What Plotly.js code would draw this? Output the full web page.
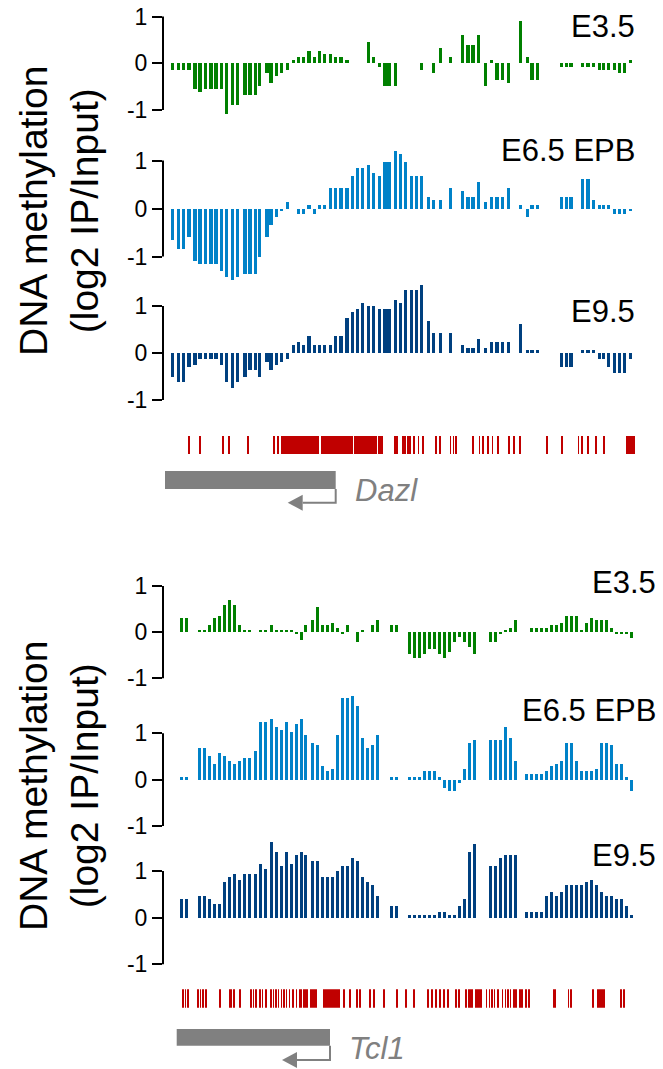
<!DOCTYPE html>
<html><head><meta charset="utf-8">
<script src="https://cdn.plot.ly/plotly-3.0.1.min.js"></script>
<style>html,body{margin:0;padding:0;background:#fff}</style>
</head><body><div id="chart" style="width:663px;height:1069px"></div>
<script>
// ---------- DATA ----------
// probe positions (relative genomic position units) for the Dazl locus
const dazlProbePos = [22.3,28.7,33.3,39.0,45.0,50.0,55.7,61.0,66.0,71.3,76.7,82.3,87.3,95.0,100.0,105.7,109.7,117.0,121.0,126.3,131.3,137.3,143.3,148.3,153.3,159.0,164.3,169.7,174.3,180.3,185.7,191.0,197.0,202.3,207.3,212.7,218.3,223.3,229.3,235.0,239.0,245.7,250.7,255.3,261.3,266.7,271.3,278.3,283.3,290.7,300.3,312.3,318.0,323.0,328.7,335.3,341.7,347.0,352.3,358.3,370.7,377.7,382.0,387.7,411.3,416.3,421.0,432.7,438.0,443.7,449.3,453.7,458.3,464.7,469.3,474.3,480.3];
const dazlE35 = [-0.14,-0.14,-0.14,-0.14,-0.55,-0.61,-0.55,-0.55,-0.55,-0.55,-1.08,-0.89,-0.89,-0.67,-0.67,-0.67,-0.48,-0.2,-0.42,-0.27,-0.2,-0.14,0.06,0.13,0.13,0.26,0.13,0.26,0.19,0.19,0.13,0.13,0.06,null,null,null,0.45,0.13,-0.07,-0.48,-0.48,-0.48,null,null,null,null,-0.14,null,-0.2,0.32,0.13,0.6,0.38,0.38,0.6,-0.48,0.06,-0.35,-0.35,-0.42,0.91,0.13,-0.35,-0.35,-0.07,-0.07,-0.07,-0.07,-0.07,-0.07,-0.14,-0.14,-0.14,-0.14,-0.2,-0.2,0.06];
const dazlE65 = [-0.66,-0.84,-0.84,-0.6,-1.09,-1.15,-1.15,-1.15,-1.15,-1.31,-1.43,-1.49,-1.43,-1.37,-1.37,-1.37,-1.0,-0.6,-0.35,-0.18,-0.06,0.14,null,-0.12,-0.12,0.07,-0.12,0.07,0.07,0.42,0.42,0.42,0.42,0.67,0.85,0.85,0.91,0.73,0.67,0.96,0.96,1.2,1.14,0.96,0.67,0.67,0.67,0.24,0.18,0.18,0.42,0.36,0.24,0.24,0.55,0.14,0.24,0.24,0.24,0.42,0.07,-0.18,0.07,0.07,0.24,0.24,0.24,0.61,0.61,0.18,0.07,0.07,0.07,-0.12,-0.12,-0.12,-0.06];
const dazlE95 = [-0.5,-0.62,-0.62,-0.3,-0.26,-0.13,-0.13,-0.13,-0.13,-0.26,-0.62,-0.75,-0.62,-0.5,-0.37,-0.37,-0.5,-0.2,-0.37,-0.26,-0.2,-0.13,0.18,0.24,0.18,0.37,0.18,0.18,0.18,0.18,0.37,0.37,0.75,0.88,0.94,1.07,1.0,1.0,0.94,0.94,0.94,1.13,1.07,1.33,1.33,1.33,1.45,0.69,0.43,0.43,0.43,0.18,0.11,0.11,0.3,0.11,0.24,0.24,0.24,0.24,0.62,0.06,0.06,0.06,-0.3,-0.3,-0.3,0.06,0.06,0.06,-0.13,-0.13,-0.3,-0.43,-0.43,-0.43,-0.13];
const dazlCpgStart = [37.7,48.7,72.0,77.7,96.7,123.3,126.7,130.7,170.7,204.0,228.3,244.3,252.0,257.3,263.0,267.7,272.3,285.0,289.3,300.0,302.7,305.3,322.0,328.7,332.0,336.7,341.7,346.7,358.0,363.3,369.3,395.7,410.7,427.7,431.0,437.3,444.7,452.7,476.0];
const dazlCpgEnd   = [39.7,50.7,74.0,79.7,98.7,124.7,128.7,168.7,202.7,227.0,233.3,247.7,256.0,261.3,265.0,269.3,274.0,287.3,291.0,301.3,304.3,307.3,324.0,330.0,334.0,339.3,343.3,348.7,360.0,365.3,371.3,397.7,412.7,429.3,432.7,439.3,446.7,454.7,484.7];

// probe positions for the Tcl1 locus
const tcl1ProbePos = [31.3,36.3,49.7,54.7,59.7,64.7,69.7,74.7,79.7,84.7,89.7,94.7,99.7,105.7,110.7,115.7,121.3,126.3,131.3,136.3,141.3,146.3,151.3,155.7,162.3,167.3,172.3,177.3,182.3,187.3,192.3,197.3,202.3,207.3,212.3,217.3,222.3,227.3,241.3,246.3,259.7,264.7,269.7,274.7,279.7,284.7,289.7,294.7,299.7,304.7,309.7,314.7,319.7,324.7,340.7,345.7,350.7,355.7,360.7,365.7,376.3,381.3,386.3,391.3,396.3,401.3,406.3,411.3,416.3,421.3,426.3,431.3,436.3,441.3,446.3,451.3,456.3,461.3,466.3,471.3,476.3,481.3];
const tcl1E35 = [0.31,0.31,0.05,0.05,0.15,0.31,0.36,0.58,0.69,0.58,0.15,0.05,0.05,null,0.05,0.05,0.15,0.05,0.05,0.05,0.05,-0.05,-0.16,0.15,0.26,0.55,0.15,0.15,0.2,0.1,-0.05,0.15,null,-0.22,0.05,null,0.15,0.26,0.15,0.15,-0.48,-0.55,-0.55,-0.48,-0.37,-0.37,-0.48,-0.55,-0.44,-0.22,-0.11,-0.22,-0.33,-0.48,-0.22,-0.22,-0.04,0.05,0.1,0.26,null,0.1,0.1,0.1,0.1,0.15,0.15,0.2,0.36,0.36,0.36,0.05,0.2,0.31,0.26,0.26,0.26,0.1,-0.04,-0.04,-0.04,-0.12];
const tcl1E65 = [0.06,0.06,0.68,0.68,0.51,0.34,0.58,0.51,0.4,0.34,0.4,0.47,0.47,0.62,1.24,1.24,1.3,1.14,1.07,1.24,1.03,1.2,1.3,0.96,0.79,0.75,0.29,0.19,0.23,0.96,1.76,1.76,1.81,1.59,0.9,0.68,0.75,0.96,0.06,0.06,0.06,0.06,0.06,0.19,0.19,0.19,0.06,-0.18,-0.24,-0.24,-0.07,0.23,0.79,0.86,0.86,0.86,0.86,1.14,0.9,0.4,0.12,0.12,0.12,0.12,0.19,0.29,0.34,0.4,0.79,0.79,0.4,0.19,0.19,0.19,0.23,0.79,0.79,0.75,0.34,0.34,0.06,-0.24];
const tcl1E95 = [0.41,0.41,0.47,0.47,0.41,0.3,0.3,0.77,0.87,0.94,0.81,0.94,0.94,0.94,1.16,1.05,1.62,1.41,1.11,1.41,1.16,1.34,1.41,1.34,1.21,1.21,0.87,0.87,0.87,0.99,1.11,1.11,1.28,1.21,0.87,0.77,0.71,0.47,0.24,0.24,0.06,0.06,0.06,0.06,0.06,0.06,0.13,0.13,0.06,0.06,0.24,0.41,1.41,1.58,1.11,1.11,1.28,1.34,1.34,1.34,0.13,0.13,0.13,0.13,0.47,0.54,0.47,0.54,0.71,0.71,0.71,0.71,0.77,0.81,0.71,0.54,0.47,0.47,0.41,0.41,0.24,0.06];
const tcl1CpgStart = [32,34.7,37.3,47.3,50,52.3,55.3,69,79.3,83.3,89.3,100,102.7,105.3,109.3,112,114.7,120,122.7,125.3,128,130.7,133.3,136,138.7,141.7,145.7,149,153.3,160,173.3,192.7,199.3,206,209.3,218.7,222.7,233.3,246,254.7,263.3,277.3,280.7,285.3,288.7,293.3,296.7,305,308.3,315.3,318.3,325,336,338.7,341.3,344,346.7,351.7,354.7,357.3,360,363.3,369.3,371.3,375,378.3,403.3,417.7,420.3,441.7,446.7,470,473];
const tcl1CpgEnd   = [33.7,36,39.3,49,51.3,54,57.3,71,81.7,85.3,91.3,101.7,104.3,107.3,111,113.3,116.7,121.7,124,126.7,129.3,132,134.7,137.3,140,144,147.3,151.7,158.3,166.7,190,194.7,201.3,208,211.3,220.7,225.3,235,248,256.7,265.3,279.3,282.7,287.3,290.7,295.3,299.3,307,310,317,322.7,331.7,337.3,340,342.7,345.3,348.7,353.3,356,358.7,361.3,366.7,370.7,372.7,376.7,380,405.7,419.3,422,444,455,471.7,474.7];

const stageLabels = ['E3.5','E6.5 EPB','E9.5'];
const tickVals = [-1,0,1];
const tickText = ['-1','0','1'];
const geneNames = ['Dazl','Tcl1'];
const geneStart = [15.0, 26.7];
const geneEnd = [185.7, 180.0];
const yTitle = 'DNA methylation<br>(log2 IP/Input)';

// ---------- LAYOUT / STYLE ----------
const W=663, H=1069;
const FONT='"Liberation Sans", Arial, Helvetica, sans-serif';
const X0=163, X1=645, XR=[13,495];
const colors=['#008000','#0082C8','#00407F'];
function pp(p){return 1-p/H;}

const loci = [
  {xa:'x', xk:'xaxis', pos:dazlProbePos, series:[dazlE35,dazlE65,dazlE95], ticks:[[16.5,110],[160.5,256.5],[306,400]],
   labelX:637, labelY:[26.5,150.5,311], cs:dazlCpgStart, ce:dazlCpgEnd, cpgPx:[436,454.3], barW:3.3,
   gene:0, genePx:[471,489], arrowY:502.7, labelGeneY:490, titleY:211},
  {xa:'x2', xk:'xaxis2', pos:tcl1ProbePos, series:[tcl1E35,tcl1E65,tcl1E95], ticks:[[586,678.3],[733.3,826],[871,964.3]],
   labelX:658, labelY:[582.5,710,855], cs:tcl1CpgStart, ce:tcl1CpgEnd, cpgPx:[989.3,1007.7], barW:3.0,
   gene:1, genePx:[1029,1045.7], arrowY:1060, labelGeneY:1048, titleY:786}
];

const data=[], shapes=[], annotations=[];
const layout = {width:W, height:H, margin:{l:0,r:0,t:0,b:0}, showlegend:false,
  paper_bgcolor:'#fff', plot_bgcolor:'rgba(0,0,0,0)', bargap:0, font:{family:FONT,color:'#000'}};
let yi=1;
loci.forEach((L,li)=>{
  layout[L.xk] = {domain:[X0/W, X1/W], range:XR, visible:false, fixedrange:true, anchor:'y'+(yi===1?'':yi)};
  L.series.forEach((vals,si)=>{
    const yk = 'yaxis'+(yi===1?'':yi), ya='y'+(yi===1?'':yi);
    const [p1,pm1] = L.ticks[si];
    const p0=(p1+pm1)/2, u=(pm1-p1)/2;
    const top=Math.max(0,p0-1.9*u), bot=Math.min(H,p0+1.9*u);
    layout[yk] = {domain:[pp(bot),pp(top)], range:[-(bot-p0)/u,(p0-top)/u], anchor:L.xa,
      showgrid:false, zeroline:false, showline:false, ticks:'outside', ticklen:10, tickwidth:2, tickcolor:'#000',
      tickvals:tickVals, ticktext:tickText, tickfont:{size:23,family:FONT,color:'#000'}, fixedrange:true, automargin:false};
    data.push({type:'bar', x:L.pos, y:vals, xaxis:L.xa, yaxis:ya, width:L.barW,
      marker:{color:colors[si], line:{width:0}}, hoverinfo:'skip'});
    shapes.push({type:'line', xref:'paper', yref:ya, x0:X0/W, x1:X0/W, y0:-1, y1:1, line:{color:'#000', width:2}});
    annotations.push({xref:'paper', yref:'paper', x:L.labelX/W, y:pp(L.labelY[si]), xanchor:'right', yanchor:'middle',
      text:stageLabels[si], showarrow:false, font:{size:31,family:FONT,color:'#000'}});
    if(si===0) layout[L.xk].anchor = ya;
    yi++;
  });
  // CpG track
  const yk='yaxis'+yi, ya='y'+yi;
  layout[yk] = {domain:[pp(L.cpgPx[1]), pp(L.cpgPx[0])], range:[0,1], visible:false, fixedrange:true, anchor:L.xa};
  data.push({type:'bar', x:L.cs.map((s,i)=>(s+L.ce[i])/2), y:L.cs.map(()=>1), base:0,
    width:L.cs.map((s,i)=>L.ce[i]-s), xaxis:L.xa, yaxis:ya, marker:{color:'#C00000', line:{width:0}}, hoverinfo:'skip'});
  yi++;
  // gene model
  const g=L.gene, gs=geneStart[g], ge=geneEnd[g];
  shapes.push({type:'rect', xref:L.xa, yref:'paper', x0:gs, x1:ge, y0:pp(L.genePx[1]), y1:pp(L.genePx[0]),
    fillcolor:'#808080', line:{width:0}});
  const tip = ge-48, back = ge-33;
  shapes.push({type:'path', xref:L.xa, yref:'paper',
    path:`M ${ge},${pp(L.genePx[1])} L ${ge},${pp(L.arrowY)} L ${back},${pp(L.arrowY)}`,
    line:{color:'#808080', width:2}});
  shapes.push({type:'path', xref:L.xa, yref:'paper',
    path:`M ${back},${pp(L.arrowY-8)} L ${tip},${pp(L.arrowY)} L ${back},${pp(L.arrowY+8)} Z`,
    fillcolor:'#808080', line:{width:0}});
  annotations.push({xref:L.xa, yref:'paper', x:ge+17, y:pp(L.labelGeneY), xanchor:'left', yanchor:'middle',
    text:'<i>'+geneNames[g]+'</i>', showarrow:false, font:{size:31,family:FONT,color:'#808080'}});
  // y title
  annotations.push({xref:'paper', yref:'paper', x:59/W, y:pp(L.titleY), xanchor:'center', yanchor:'middle',
    text:yTitle, textangle:-90, showarrow:false, font:{size:39,family:FONT,color:'#000'}});
});
layout.shapes=shapes; layout.annotations=annotations;
Plotly.newPlot('chart', data, layout, {staticPlot:true, displayModeBar:false});
</script></body></html>
